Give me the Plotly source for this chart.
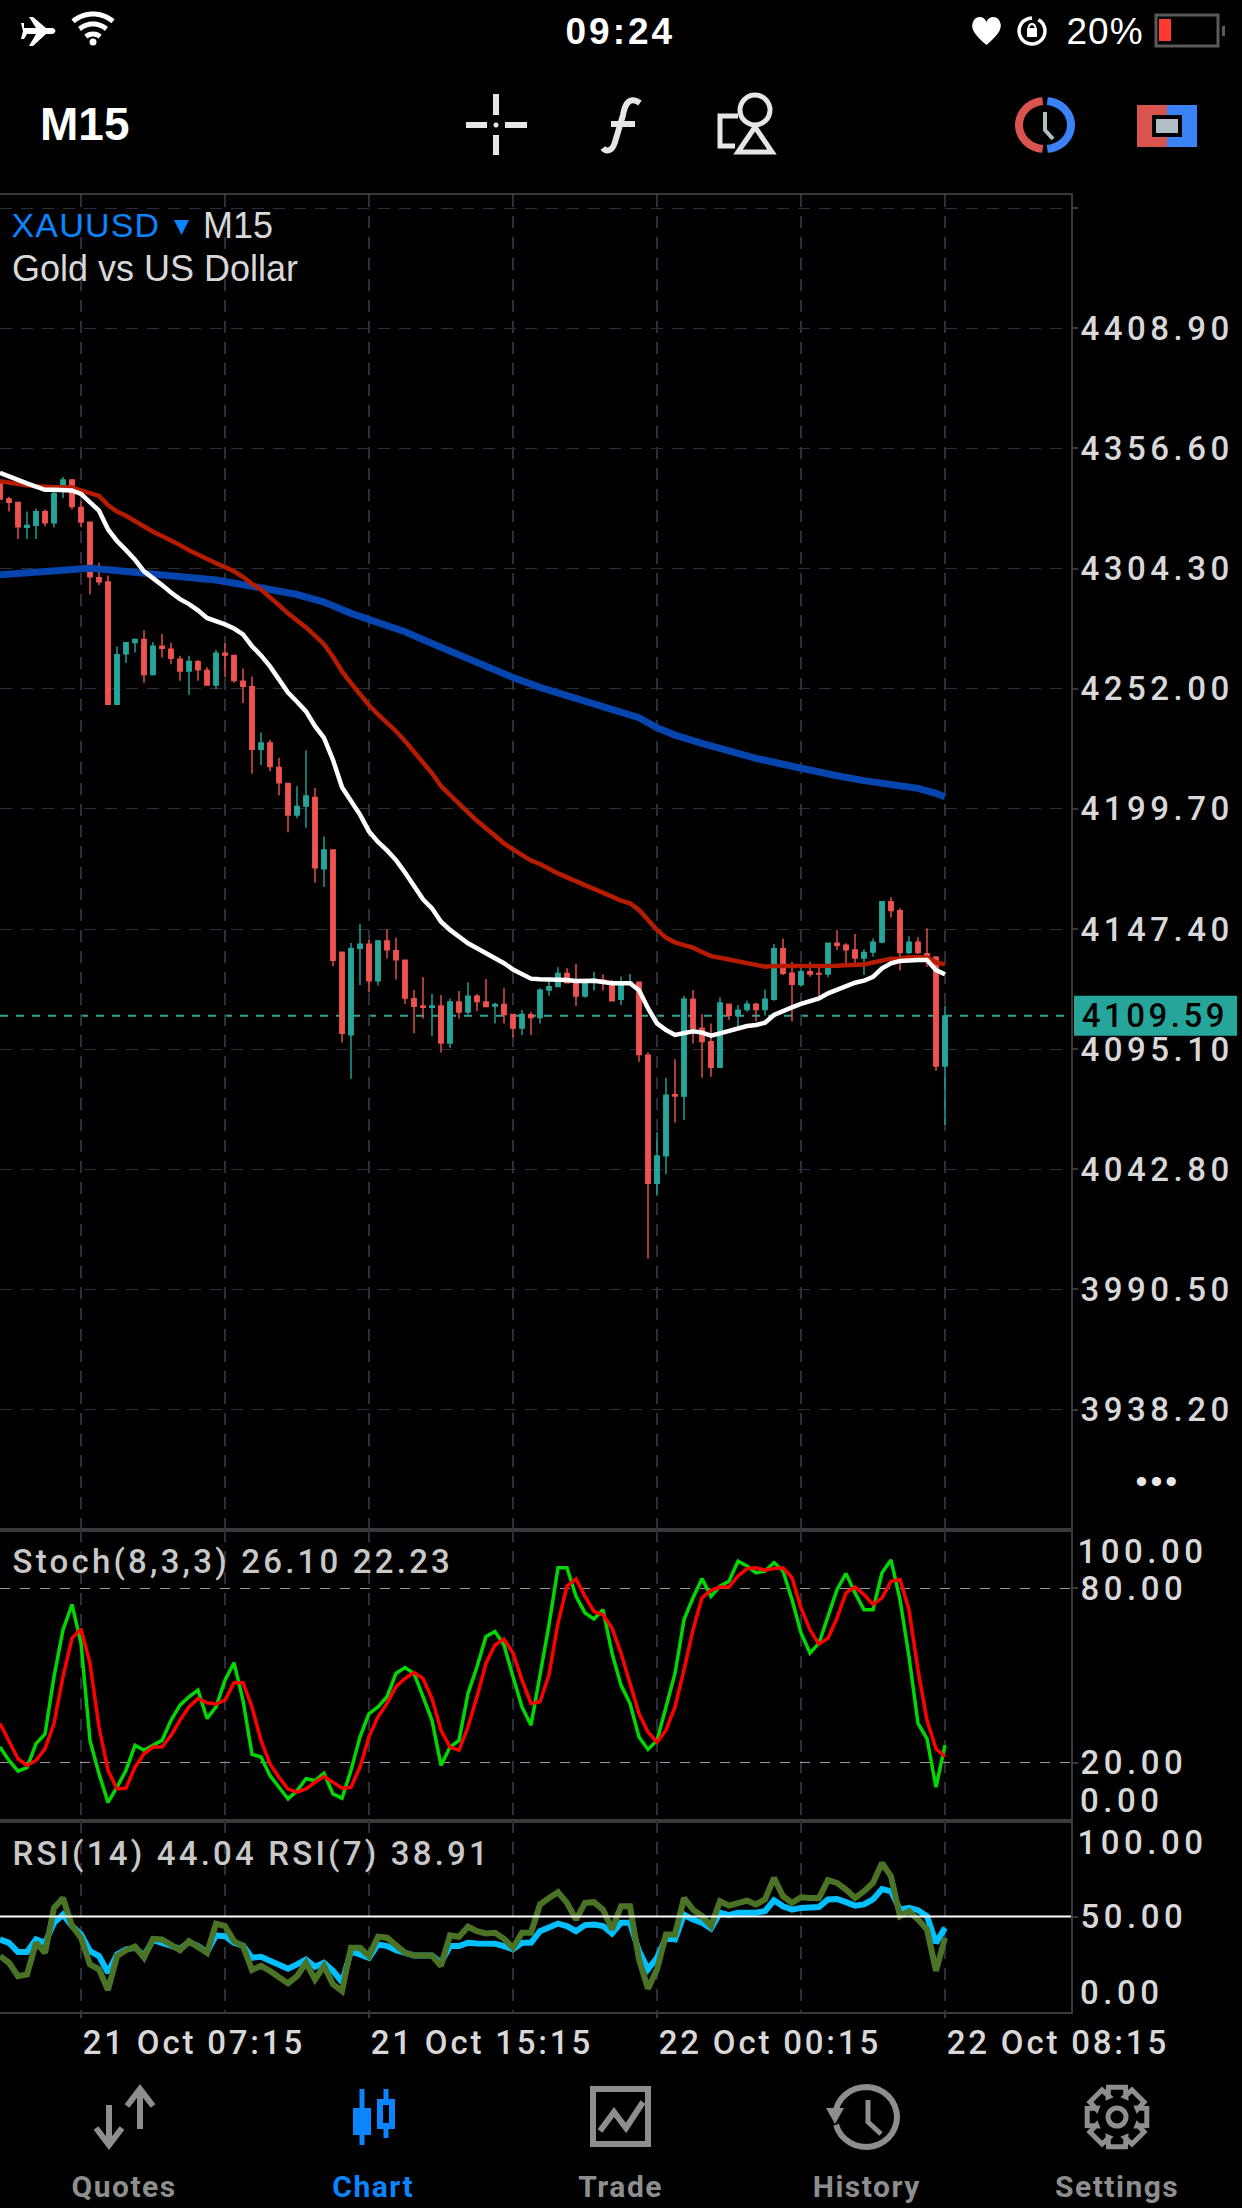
import json
import math
import plotly.graph_objects as go

# chart values
bar_index = list(range(106))
open_price = [4342.3, 4334.6, 4333.1, 4322.3, 4323.1, 4329.1, 4324.2, 4340.1, 4342.9, 4330.9,
              4324.5, 4300.3, 4298.5, 4245.2, 4267.2, 4272.1, 4273.4, 4258.2, 4270.5, 4269.2,
              4264.8, 4259.7, 4263.7, 4259.9, 4253.6, 4267.4, 4266.5, 4255.3, 4252.9, 4225.6,
              4228.4, 4217.7, 4210.8, 4197.0, 4200.9, 4204.7, 4173.6, 4181.8, 4137.3, 4101.4,
              4139.0, 4140.8, 4124.9, 4142.2, 4138.0, 4133.8, 4117.1, 4113.9, 4113.3, 4113.9,
              4097.8, 4115.6, 4111.3, 4118.2, 4115.6, 4113.9, 4114.6, 4110.2, 4104.3, 4110.1,
              4108.9, 4120.8, 4122.3, 4128.1, 4124.5, 4118.2, 4124.3, 4125.2, 4124.0, 4116.8,
              4123.5, 4124.2, 4092.5, 4036.7, 4048.7, 4075.3, 4074.7, 4116.8, 4104.2, 4098.4,
              4087.2, 4114.7, 4109.7, 4112.3, 4114.7, 4112.3, 4116.8, 4138.8, 4128.2, 4123.2,
              4128.8, 4128.1, 4127.8, 4141.2, 4140.3, 4138.3, 4134.8, 4137.4, 4141.7, 4159.3,
              4155.4, 4137.2, 4141.7, 4136.7, 4135.1, 4087.8]
close_price = [4334.6, 4333.1, 4322.5, 4323.1, 4329.1, 4324.2, 4337.0, 4342.9, 4331.3, 4324.5,
               4300.7, 4298.5, 4245.2, 4266.8, 4272.0, 4273.4, 4258.2, 4270.5, 4269.6, 4265.2,
               4259.7, 4263.9, 4260.2, 4253.6, 4267.4, 4266.6, 4255.5, 4253.1, 4225.6, 4228.4,
               4218.1, 4211.0, 4197.0, 4200.7, 4205.3, 4174.0, 4181.8, 4133.8, 4102.0, 4138.8,
               4140.8, 4124.9, 4142.2, 4138.4, 4134.0, 4117.3, 4113.8, 4113.3, 4113.9, 4097.8,
               4115.6, 4111.3, 4118.2, 4115.8, 4113.7, 4114.6, 4110.2, 4104.3, 4110.2, 4108.9,
               4120.8, 4122.3, 4128.1, 4124.0, 4118.2, 4124.0, 4125.5, 4124.3, 4116.2, 4124.0,
               4124.2, 4092.8, 4036.7, 4048.6, 4075.1, 4074.7, 4116.8, 4104.2, 4098.4, 4087.2,
               4115.2, 4109.8, 4112.1, 4114.7, 4112.3, 4116.8, 4138.8, 4128.1, 4123.3, 4128.8,
               4127.8, 4127.8, 4141.2, 4140.3, 4138.3, 4134.8, 4137.2, 4141.7, 4159.3, 4155.4,
               4137.2, 4141.7, 4137.2, 4135.1, 4087.8, 4109.59]
high_price = [4342.3, 4335.5, 4333.1, 4329.1, 4330.4, 4330.0, 4339.2, 4344.1, 4342.9, 4333.7,
              4324.5, 4306.8, 4301.3, 4270.5, 4272.0, 4273.8, 4277.5, 4272.3, 4275.8, 4272.0,
              4266.3, 4266.3, 4264.5, 4261.3, 4268.8, 4271.8, 4266.5, 4260.8, 4257.3, 4232.9,
              4229.8, 4222.0, 4210.8, 4209.5, 4225.2, 4208.8, 4187.7, 4181.8, 4137.3, 4141.3,
              4149.6, 4142.6, 4142.6, 4147.2, 4143.7, 4133.8, 4120.8, 4126.4, 4119.1, 4118.7,
              4117.2, 4120.4, 4124.2, 4119.1, 4125.6, 4115.3, 4121.6, 4110.2, 4112.1, 4111.4,
              4121.6, 4125.2, 4130.7, 4130.3, 4132.2, 4125.2, 4128.8, 4127.7, 4125.2, 4126.7,
              4127.8, 4124.2, 4093.6, 4058.9, 4082.7, 4090.7, 4118.4, 4120.8, 4110.3, 4106.3,
              4117.6, 4115.0, 4114.3, 4116.2, 4115.3, 4121.1, 4140.9, 4143.3, 4133.2, 4130.7,
              4133.2, 4130.7, 4141.2, 4147.0, 4141.2, 4145.2, 4138.6, 4143.3, 4159.3, 4161.2,
              4156.4, 4144.3, 4143.8, 4147.7, 4135.6, 4113.9]
low_price = [4334.6, 4329.1, 4317.2, 4317.2, 4317.2, 4322.7, 4322.2, 4335.0, 4330.0, 4322.3,
             4293.0, 4297.0, 4245.2, 4245.2, 4263.2, 4267.8, 4254.5, 4257.7, 4265.6, 4262.6,
             4255.5, 4249.4, 4255.5, 4253.6, 4251.8, 4257.1, 4254.6, 4245.8, 4215.0, 4218.8,
             4216.1, 4205.5, 4189.5, 4195.6, 4191.5, 4167.5, 4165.7, 4131.3, 4098.0, 4082.2,
             4123.0, 4119.9, 4122.8, 4134.6, 4125.4, 4114.8, 4102.0, 4108.4, 4100.8, 4093.7,
             4095.7, 4108.4, 4110.1, 4111.7, 4113.3, 4106.3, 4106.3, 4100.2, 4101.3, 4101.3,
             4106.3, 4118.4, 4122.0, 4124.0, 4113.9, 4117.6, 4120.6, 4120.6, 4116.2, 4114.3,
             4123.0, 4089.6, 4004.0, 4031.3, 4040.6, 4063.2, 4064.3, 4097.6, 4082.7, 4083.1,
             4087.2, 4107.8, 4104.9, 4111.4, 4107.1, 4109.8, 4116.2, 4127.4, 4107.1, 4122.3,
             4126.6, 4118.2, 4126.4, 4138.3, 4132.4, 4132.4, 4127.4, 4135.4, 4141.2, 4152.3,
             4129.3, 4136.5, 4136.5, 4131.0, 4085.7, 4062.1]

ma_white = [4346.0, 4344.7, 4342.9, 4341.4, 4340.1, 4338.6, 4338.6, 4338.6, 4338.3, 4336.8,
            4333.2, 4329.5, 4321.4, 4316.3, 4312.3, 4308.1, 4303.1, 4299.8, 4297.1, 4293.9,
            4291.0, 4288.8, 4286.1, 4282.8, 4281.5, 4280.0, 4278.2, 4275.6, 4270.5, 4266.5,
            4261.7, 4256.2, 4250.3, 4246.3, 4242.1, 4235.7, 4230.6, 4221.0, 4209.1, 4203.1,
            4197.2, 4189.9, 4185.3, 4181.6, 4177.4, 4172.0, 4165.8, 4160.3, 4156.4, 4150.6,
            4147.0, 4143.8, 4141.2, 4139.0, 4136.8, 4134.9, 4132.5, 4129.8, 4127.7, 4125.8,
            4125.5, 4125.5, 4125.5, 4125.2, 4124.8, 4124.9, 4124.9, 4124.3, 4123.8, 4123.8,
            4123.8, 4120.8, 4112.9, 4106.3, 4103.4, 4101.3, 4102.3, 4102.9, 4102.3, 4101.0,
            4102.0, 4103.0, 4103.9, 4105.2, 4105.6, 4106.6, 4110.0, 4111.9, 4113.3, 4114.8,
            4115.8, 4117.2, 4119.4, 4121.1, 4122.6, 4124.0, 4124.9, 4126.6, 4130.3, 4132.5,
            4133.5, 4133.9, 4133.9, 4133.9, 4129.5, 4127.7]
ma_red = [4342.3, 4341.6, 4341.0, 4340.5, 4340.1, 4339.7, 4339.7, 4339.7, 4339.6, 4338.3,
          4337.0, 4335.9, 4331.9, 4329.1, 4327.3, 4324.9, 4322.3, 4320.3, 4318.5, 4316.7,
          4314.5, 4312.3, 4310.3, 4308.1, 4306.6, 4304.9, 4303.1, 4300.7, 4297.6, 4295.2,
          4292.1, 4288.4, 4284.8, 4281.8, 4278.7, 4275.1, 4271.4, 4265.9, 4259.5, 4254.4,
          4249.4, 4244.8, 4240.8, 4237.2, 4233.5, 4229.2, 4224.6, 4220.2, 4215.2, 4209.6,
          4206.0, 4202.1, 4198.2, 4194.5, 4191.2, 4187.6, 4184.7, 4182.1, 4179.6, 4177.2,
          4175.7, 4173.5, 4171.6, 4169.9, 4168.3, 4166.5, 4164.8, 4163.4, 4161.5, 4159.7,
          4158.6, 4155.7, 4151.3, 4147.0, 4143.6, 4141.6, 4140.4, 4139.3, 4137.4, 4135.6,
          4134.9, 4134.2, 4133.5, 4132.8, 4131.7, 4131.0, 4131.3, 4131.3, 4131.0, 4131.0,
          4131.0, 4131.0, 4131.0, 4131.4, 4131.6, 4131.7, 4131.9, 4132.8, 4133.6, 4134.5,
          4134.6, 4135.1, 4135.1, 4134.9, 4132.9, 4132.0]
ma_blue_x = [0, 2, 5, 8, 10, 12, 15, 18, 21, 24, 27, 30, 33, 36, 39, 42, 45, 48, 51, 54, 57, 60,
             63, 66, 69, 71, 73, 75, 78, 81, 84, 87, 90, 93, 96, 99, 102, 104, 105]
ma_blue = [4301.6, 4302.2, 4303.1, 4304.2, 4304.4, 4303.8, 4302.9, 4301.3, 4300.4, 4299.3,
           4297.6, 4295.2, 4293.0, 4289.7, 4284.8, 4280.6, 4276.8, 4271.7, 4266.7, 4261.3,
           4256.9, 4252.6, 4249.2, 4245.6, 4242.3, 4239.4, 4235.0, 4231.8, 4228.2, 4224.6,
           4221.7, 4219.1, 4216.3, 4214.1, 4212.0, 4210.4, 4208.6, 4206.4, 4205.0]

stoch_main = [25.4, 20.8, 17.1, 18.3, 26.6, 29.8, 49.6, 65.7, 74.4, 61.1, 27.7, 16.2, 6.4, 11.6,
              17.4, 26.0, 24.3, 26.0, 27.7, 34.6, 39.8, 42.7, 45.0, 35.2, 39.2, 48.4, 54.4, 41.5,
              22.9, 22.0, 15.6, 11.6, 7.6, 10.4, 14.5, 13.9, 16.4, 9.3, 7.8, 17.4, 28.9, 36.9,
              39.2, 42.7, 50.7, 52.7, 50.7, 42.7, 34.6, 19.1, 25.4, 27.7, 43.8, 53.0, 63.4, 65.1,
              60.5, 49.6, 39.2, 32.9, 50.0, 67.4, 87.0, 87.0, 77.2, 71.5, 69.4, 72.6, 57.7, 46.7,
              40.4, 28.9, 24.6, 27.7, 39.2, 50.7, 69.2, 76.7, 83.3, 77.2, 80.7, 82.4, 89.3, 87.6,
              85.3, 85.9, 88.8, 85.9, 76.1, 64.6, 57.7, 61.1, 70.3, 79.5, 85.1, 78.4, 72.6, 72.6,
              85.3, 89.7, 76.1, 56.5, 33.5, 28.3, 11.6, 26.1]
stoch_signal = [33.5, 27.7, 21.4, 19.1, 20.8, 24.8, 33.5, 49.6, 62.8, 66.0, 54.2, 32.3, 17.4, 11.0,
                11.3, 18.5, 23.1, 25.4, 25.4, 29.4, 34.6, 39.2, 42.1, 40.6, 40.2, 41.5, 47.5, 47.5,
                39.2, 27.7, 19.6, 15.0, 11.0, 9.9, 11.0, 13.3, 15.3, 13.3, 11.3, 11.6, 18.5, 28.9,
                35.8, 40.4, 46.2, 49.0, 51.0, 49.0, 42.1, 31.2, 25.4, 24.3, 32.3, 42.7, 54.2, 60.5,
                62.5, 57.7, 48.4, 40.4, 41.0, 50.2, 68.0, 80.7, 83.2, 77.2, 72.0, 70.9, 66.3, 57.7,
                47.3, 36.9, 30.6, 27.1, 31.2, 39.2, 51.9, 65.7, 76.7, 79.3, 80.4, 80.4, 84.2, 86.7,
                87.0, 86.2, 86.8, 87.0, 83.6, 73.2, 65.7, 60.8, 62.8, 69.7, 78.4, 80.4, 77.8, 74.4,
                76.7, 82.4, 83.0, 72.6, 51.9, 34.6, 24.8, 22.23]
rsi_14 = [38.0, 36.2, 31.4, 31.4, 38.0, 36.2, 46.7, 51.0, 45.0, 40.6, 31.9, 29.3, 20.6, 30.2, 32.8,
          33.6, 29.6, 37.6, 36.2, 34.5, 33.1, 36.6, 34.5, 31.4, 40.1, 39.7, 36.2, 34.8, 28.4, 28.9,
          26.7, 24.9, 22.7, 24.9, 27.5, 23.7, 25.8, 21.5, 15.7, 31.9, 30.2, 28.4, 35.4, 34.5, 32.4,
          30.7, 29.6, 29.6, 29.6, 25.8, 34.5, 34.5, 36.2, 35.9, 35.7, 35.7, 34.5, 32.8, 36.2, 36.2,
          42.3, 44.1, 46.3, 45.0, 42.3, 45.5, 45.8, 45.0, 41.1, 46.7, 46.7, 31.9, 22.3, 28.4, 38.9,
          38.0, 51.0, 48.4, 46.7, 43.7, 52.0, 50.7, 52.0, 52.0, 52.0, 52.8, 58.5, 55.4, 53.6, 54.5,
          54.5, 55.0, 58.9, 59.2, 57.5, 55.7, 56.3, 58.9, 64.4, 63.2, 53.6, 54.5, 53.3, 50.2, 36.2,
          44.04]
rsi_7 = [29.3, 25.8, 18.8, 19.7, 36.2, 31.0, 54.5, 59.7, 45.0, 38.9, 24.9, 22.3, 11.5, 29.3, 32.4,
         34.2, 28.4, 38.3, 38.0, 35.4, 32.4, 37.1, 34.5, 31.0, 46.3, 45.0, 37.1, 34.5, 22.0, 24.1,
         21.5, 18.0, 15.0, 18.8, 25.8, 17.1, 24.1, 14.5, 11.0, 33.6, 33.6, 29.3, 39.4, 38.9, 35.4,
         31.0, 29.6, 29.6, 29.6, 24.1, 40.1, 39.4, 44.6, 42.3, 41.1, 41.5, 38.3, 33.6, 41.5, 41.5,
         56.3, 59.7, 62.7, 57.1, 48.4, 57.1, 57.5, 53.6, 43.2, 55.4, 55.4, 27.5, 12.2, 22.3, 40.6,
         40.6, 59.7, 53.6, 50.2, 45.0, 58.0, 55.7, 57.1, 58.3, 56.3, 58.9, 70.2, 60.6, 57.1, 60.1,
         59.7, 59.7, 69.0, 67.6, 64.1, 59.7, 63.2, 67.6, 78.0, 71.0, 50.2, 52.8, 48.4, 43.2, 21.5,
         38.91]

price_ticks = [4461.2, 4408.9, 4356.6, 4304.3, 4252.0, 4199.7, 4147.4, 4095.1, 4042.8, 3990.5, 3938.2]
price_labels = ["", "4408.90", "4356.60", "4304.30", "4252.00", "4199.70", "4147.40", "4095.10",
                "4042.80", "3990.50", "3938.20"]
time_ticks = [9, 41, 73, 105]
time_labels = ["21 Oct 07:15", "21 Oct 15:15", "22 Oct 00:15", "22 Oct 08:15"]
minor_ticks = [25, 57, 89]

W, H = 1242, 2208
BORDER = "#3a3a3a"
GRID = "#2c2e3c"
TEAL = "#26A69A"
CORAL = "#EF5350"
LABEL = "#d8d8d8"
GREY = "#8e8e8e"
BLUE = "#0a84ff"
NUM_FONT = "Roboto"
NUM_SIZE = 33

fig = go.Figure()
fig.add_trace(go.Candlestick(x=bar_index, open=open_price, high=high_price, low=low_price, close=close_price,
                             increasing=dict(line=dict(color=TEAL, width=1.4), fillcolor=TEAL),
                             decreasing=dict(line=dict(color=CORAL, width=1.4), fillcolor=CORAL),
                             whiskerwidth=0, xaxis="x", yaxis="y"))
fig.add_trace(go.Scatter(x=ma_blue_x, y=ma_blue, mode="lines", line=dict(color="#0645ad", width=7), xaxis="x", yaxis="y"))
fig.add_trace(go.Scatter(x=bar_index, y=ma_red, mode="lines", line=dict(color="#b71c00", width=4.5), xaxis="x", yaxis="y"))
fig.add_trace(go.Scatter(x=bar_index, y=ma_white, mode="lines", line=dict(color="#ffffff", width=4.5), xaxis="x", yaxis="y"))
fig.add_trace(go.Scatter(x=bar_index, y=stoch_main, mode="lines", line=dict(color="#00d800", width=3.5), xaxis="x2", yaxis="y2"))
fig.add_trace(go.Scatter(x=bar_index, y=stoch_signal, mode="lines", line=dict(color="#ff0000", width=3.5), xaxis="x2", yaxis="y2"))
fig.add_trace(go.Scatter(x=bar_index, y=rsi_14, mode="lines", line=dict(color="#00bfff", width=6), xaxis="x3", yaxis="y3"))
fig.add_trace(go.Scatter(x=bar_index, y=rsi_7, mode="lines", line=dict(color="#4b7325", width=6), xaxis="x3", yaxis="y3"))


def x_axis(anchor, labels=False):
    ax = dict(domain=[0, 1071 / W], range=[0, 119], anchor=anchor, tickmode="array", tickvals=time_ticks, automargin=False,
              showgrid=True, gridcolor=GRID, gridwidth=1.5, griddash="12px,9px", zeroline=False,
              showline=True, mirror=True, linecolor=BORDER, linewidth=2,
              minor=dict(tickmode="array", tickvals=minor_ticks, showgrid=True, gridcolor=GRID, gridwidth=1.5, griddash="12px,9px", ticks=""),
              showticklabels=False, ticks="", rangeslider=dict(visible=False))
    if labels:
        ax.update(ticktext=time_labels, showticklabels=True, ticks="outside", ticklen=4, tickcolor=BORDER, tickwidth=1.5,
                  ticklabelposition="outside right", tickangle=0,
                  tickfont=dict(family=NUM_FONT, size=NUM_SIZE, color=LABEL, weight=500))
    return ax


def y_axis(anchor, top, bottom, rng, vals, text, grid, griddash="10px,10px", showgrid=True):
    return dict(domain=[1 - bottom / H, 1 - top / H], range=rng, anchor=anchor, side="right", automargin=False,
                tickmode="array", tickvals=vals, ticktext=text, showgrid=showgrid, gridcolor=grid, gridwidth=1.3, griddash=griddash,
                zeroline=False, showline=True, mirror=True, linecolor=BORDER, linewidth=2,
                ticks="outside", ticklen=5, tickcolor=BORDER, tickwidth=1.5, ticklabelstandoff=-4,
                tickfont=dict(family=NUM_FONT, size=NUM_SIZE, color=LABEL, weight=500))


shapes = []
annotations = []
spacing = {}


# ui overlay is drawn in screen pixels on a hidden axis pair
def path(d, fill="rgba(0,0,0,0)", color=None, width=0):
    shapes.append(dict(type="path", path=d, xref="x4", yref="y4", fillcolor=fill, layer="above",
                       line=dict(color=color or fill, width=width)))


def rect(x0, y0, x1, y1, fill="rgba(0,0,0,0)", color=None, width=0):
    shapes.append(dict(type="rect", x0=x0, y0=y0, x1=x1, y1=y1, xref="x4", yref="y4", fillcolor=fill, layer="above",
                       line=dict(color=color or fill, width=width)))


def ring(cx, cy, r, fill="rgba(0,0,0,0)", color=None, width=0):
    shapes.append(dict(type="circle", x0=cx - r, y0=cy - r, x1=cx + r, y1=cy + r, xref="x4", yref="y4", fillcolor=fill, layer="above",
                       line=dict(color=color or fill, width=width)))


def arc(cx, cy, rx, ry, a0, a1, n=24):
    pts = []
    for i in range(n + 1):
        a = math.radians(a0 + (a1 - a0) * i / n)
        pts.append(f"{cx + rx * math.cos(a):.1f},{cy + ry * math.sin(a):.1f}")
    return "M " + " L ".join(pts)


def label(text, x, y, size, color=LABEL, family="Liberation Sans", bold=False, ls=0, weight=None):
    annotations.append(dict(text=text, x=x, y=y, xref="x4", yref="y4", xanchor="center", yanchor="middle", showarrow=False,
                            font=dict(family=family, size=size, color=color, weight=weight or ("bold" if bold else "normal"))))
    if ls:
        spacing[text] = ls


# status bar
path("M24,28 L36,28 L29,17 L33,17 L46,28 L53,28 Q58,31 53,34 L46,34 L33,46 L29,46 L36,34 L27,34 L24,39 L21,39 L23,31 L21,23 L24,23 Z", "#ffffff")
for r in (31, 21, 11):
    path(arc(93, 45, r, r, -130, -50), color="#ffffff", width=5)
ring(93, 42, 3.5, "#ffffff")
path("M986.5,45 C972,33 971,27 973,22 C975,16 984,15 986.5,22 C989,15 998,16 1000,22 C1002,27 1001,33 986.5,45 Z", "#ffffff")
path(arc(1032, 31, 13, 13, -60, 270), color="#ffffff", width=3.5)
rect(1027, 28, 1037, 37, "#ffffff")
path(arc(1032, 28, 3.5, 4, 180, 360, 8), color="#ffffff", width=2)
label("09:24", 620, 31, 37, "#ffffff", bold=True, ls=3)
label("20%", 1105, 31, 37, "#ffffff", ls=1)
rect(1156, 15, 1218, 46, color="#5a5a5a", width=3)
rect(1159, 19, 1171, 41, "#ff3b30")
rect(1222, 26, 1225, 36, "#5a5a5a")

# toolbar
label("M15", 84, 124, 46, "#ffffff", bold=True)
path("M496,94 L496,115 M496,135 L496,155 M466,125 L487,125 M505,125 L527,125", color="#e6e6e6", width=6)
ring(496, 125, 2.5, "#e6e6e6")
path("M640,103 C630,96 625,103 623,115 L615,142 C612,152 606,152 603,148 M611,124 L635,124", color="#e6e6e6", width=6)
ring(755, 110, 15, color="#e6e6e6", width=5)
path("M755,127 L738,152 L772,152 Z", color="#e6e6e6", width=5)
path("M738,116 L720,116 L720,146 L735,146", color="#e6e6e6", width=5)
path(arc(1045, 125, 26, 24, 95, 265), color="#d9534f", width=8)
path(arc(1045, 125, 26, 24, -85, 85), color="#3b82f6", width=8)
path("M1045,112 L1045,130 L1053,139", color="#b0bec5", width=4)
rect(1137, 105, 1167, 147, "#d9534f")
rect(1167, 105, 1197, 147, "#3b82f6")
rect(1152, 115, 1182, 137, "#000000")
rect(1156, 119, 1178, 133, "#b0bec5")

# chart captions
label("XAUUSD", 86, 225, 34, BLUE, ls=1.2)
path("M174,220 L189,220 L181.5,235 Z", BLUE)
label("M15", 238, 225, 36, LABEL)
label("Gold vs US Dollar", 155, 268, 36, LABEL)
label("Stoch(8,3,3) 26.10 22.23", 233, 1561, NUM_SIZE, "#c8c8c8", family=NUM_FONT, ls=3.2, weight=500)
label("RSI(14) 44.04 RSI(7) 38.91", 251, 1853, NUM_SIZE, "#c8c8c8", family=NUM_FONT, ls=3.2, weight=500)
label("•••", 1158, 1481, 34, "#e6e6e6", ls=3)

# pane scale ends sit inside the pane, not at their true height
label("100.00", 1142, 1551, NUM_SIZE, LABEL, family=NUM_FONT, ls=4.5, weight=500)
label("0.00", 1121, 1800, NUM_SIZE, LABEL, family=NUM_FONT, ls=4.5, weight=500)
label("100.00", 1142, 1842, NUM_SIZE, LABEL, family=NUM_FONT, ls=4.5, weight=500)
label("0.00", 1121, 1992, NUM_SIZE, LABEL, family=NUM_FONT, ls=4.5, weight=500)

# last price line and tag
last_price = close_price[-1]
shapes.append(dict(type="line", xref="x", yref="y", x0=0, x1=119, y0=last_price, y1=last_price, layer="below",
                   line=dict(color=TEAL, width=2, dash="8px,8px")))
shapes.append(dict(type="rect", xref="x4", yref="y", x0=1074, x1=1237, ysizemode="pixel", yanchor=last_price, y0=-20, y1=20,
                   fillcolor=TEAL, line=dict(width=0), layer="above"))
annotations.append(dict(text=f"{last_price:.2f}", x=1155, y=last_price, xref="x4", yref="y", xanchor="center", yanchor="middle",
                        showarrow=False, font=dict(family=NUM_FONT, size=NUM_SIZE, color="#000000", weight=500)))
spacing[f"{last_price:.2f}"] = 3.5

# rsi 50 level sits over the lines
shapes.append(dict(type="line", xref="x3", yref="y3", x0=0, x1=119, y0=50, y1=50, layer="above",
                   line=dict(color="#ffffff", width=2)))

# tab bar
path("M140,2129 L140,2093 M127,2106 L140,2089 L153,2106", color=GREY, width=6)
path("M109,2105 L109,2141 M96,2128 L109,2145 L122,2128", color=GREY, width=6)
path("M362,2089 L362,2145", color=BLUE, width=5)
rect(353, 2108, 371, 2135, BLUE)
path("M386,2089 L386,2138", color=BLUE, width=5)
rect(380, 2102, 392, 2126, "#000000", BLUE, 6)
rect(593, 2089, 648, 2144, "#000000", GREY, 6)
path("M600,2131 L614,2112 L626,2128 L643,2102", color=GREY, width=6)
path(arc(866, 2117, 31, 30, -165, 165, 30), color=GREY, width=6)
path("M826,2108 L844,2108 L835,2124 Z", GREY)
path("M868,2100 L868,2122 L881,2134", color=GREY, width=5)
gear = []
for i in range(8):
    mid = i * 45 - 90
    for da, r in ((-16, 31), (16, 31), (24, 22), (-24 + 45, 22)):
        a = math.radians(mid + da)
        gear.append(f"{1117 + r * math.cos(a):.1f},{2117 + r * math.sin(a):.1f}")
path("M " + " L ".join(gear) + " Z", color=GREY, width=5)
ring(1117, 2117, 9, color=GREY, width=5)
label("Quotes", 124, 2186, 30, GREY, family=NUM_FONT, bold=True, ls=1.5)
label("Chart", 373, 2186, 30, BLUE, family=NUM_FONT, bold=True, ls=1.5)
label("Trade", 620, 2186, 30, GREY, family=NUM_FONT, bold=True, ls=1.5)
label("History", 867, 2186, 30, GREY, family=NUM_FONT, bold=True, ls=1.5)
label("Settings", 1117, 2186, 30, GREY, family=NUM_FONT, bold=True, ls=1.5)

fig.update_layout(
    width=W, height=H, margin=dict(l=0, r=0, t=0, b=0, autoexpand=False), paper_bgcolor="#000000", plot_bgcolor="rgba(0,0,0,0)",
    showlegend=False, hovermode=False,
    xaxis=x_axis("y"), xaxis2=x_axis("y2"), xaxis3=x_axis("y3", labels=True),
    yaxis=y_axis("x", 195, 1530, [3885.8, 4466.9], price_ticks, price_labels, GRID, griddash="12px,9px"),
    yaxis2=y_axis("x2", 1530, 1821, [0, 100], [80, 20], ["80.00", "20.00"], "#9a9a9a"),
    yaxis3=y_axis("x3", 1821, 2012, [0, 100], [50], ["50.00"], "#000000", showgrid=False),
    xaxis4=dict(domain=[0, 1], range=[0, W], anchor="y4", visible=False, fixedrange=True),
    yaxis4=dict(domain=[0, 1], range=[H, 0], anchor="x4", visible=False, fixedrange=True),
    shapes=shapes, annotations=annotations,
)
fig.add_trace(go.Scatter(x=[], y=[], xaxis="x4", yaxis="y4"))

post = """
document.body.style.margin='0';document.body.style.background='#000';
var st=document.createElement('style');
st.textContent='.ytick text,.y2tick text,.y3tick text{letter-spacing:4.5px}.x3tick text{letter-spacing:2.8px}';
document.head.appendChild(st);
var sp=%s;
document.querySelectorAll('.annotation-text').forEach(function(t){
  var v=sp[t.textContent]; if(v){t.style.letterSpacing=v+'px';}
});
""" % json.dumps(spacing)

fig.write_html("out.html", config={"displayModeBar": False}, post_script=post)
